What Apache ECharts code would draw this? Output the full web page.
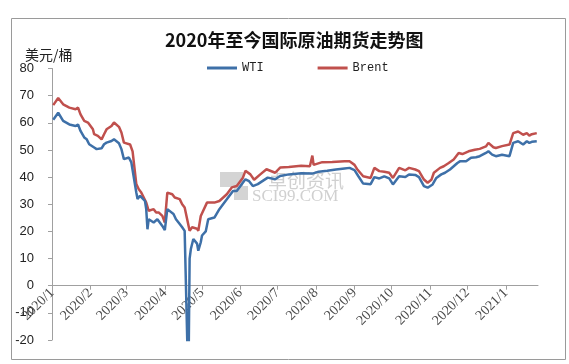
<!DOCTYPE html>
<html><head><meta charset="utf-8">
<script src="https://cdn.jsdelivr.net/npm/echarts@6/dist/echarts.min.js"></script>
<style>html,body{margin:0;padding:0;background:#fff}#c{width:569px;height:364px}</style>
</head><body><div id="c"></div>
<script>
const titleText = '2020年至今国际原油期货走势图';
const unitText = '美元/桶';
const seriesNames = ['WTI', 'Brent'];
const yMin = -20, yMax = 80, yStep = 10;
const xMin = '2020-01-01', xMax = '2021-01-27';

const wtiDates = ['2020-01-02','2020-01-06','2020-01-07','2020-01-10','2020-01-15','2020-01-20','2020-01-22','2020-01-24','2020-01-27','2020-01-29','2020-01-31',
'2020-02-04','2020-02-06','2020-02-10','2020-02-12','2020-02-14','2020-02-18','2020-02-20','2020-02-24','2020-02-26','2020-02-28',
'2020-03-03','2020-03-05','2020-03-09','2020-03-10','2020-03-12','2020-03-16','2020-03-17','2020-03-18','2020-03-19','2020-03-23','2020-03-26','2020-03-30',
'2020-04-01','2020-04-03','2020-04-08','2020-04-10','2020-04-13','2020-04-15','2020-04-17','2020-04-20','2020-04-21','2020-04-22','2020-04-24','2020-04-27','2020-04-28','2020-04-30',
'2020-05-01','2020-05-04','2020-05-06','2020-05-11','2020-05-15','2020-05-21','2020-05-26','2020-05-29',
'2020-06-01','2020-06-05','2020-06-08','2020-06-11','2020-06-15','2020-06-19','2020-06-23','2020-06-29',
'2020-07-03','2020-07-10','2020-07-20','2020-07-29','2020-08-03','2020-08-10','2020-08-17','2020-08-24','2020-08-28',
'2020-09-01','2020-09-04','2020-09-08','2020-09-14','2020-09-17','2020-09-21','2020-09-25','2020-09-29',
'2020-10-02','2020-10-07','2020-10-12','2020-10-15','2020-10-20','2020-10-23','2020-10-27','2020-10-30',
'2020-11-03','2020-11-06','2020-11-10','2020-11-13','2020-11-17','2020-11-23','2020-11-25','2020-11-30',
'2020-12-04','2020-12-08','2020-12-11','2020-12-16','2020-12-18','2020-12-21','2020-12-24','2020-12-29',
'2021-01-04','2021-01-07','2021-01-11','2021-01-15','2021-01-18','2021-01-20','2021-01-22','2021-01-26'];
const wtiValues = [61.1,63.7,63.3,60.7,59.4,58.8,59.4,57.0,54.6,53.9,52.1,
50.9,50.3,50.6,52.1,52.7,53.3,53.9,52.5,50.3,46.6,
47.2,45.4,34.3,31.9,33.1,31.2,28.2,20.8,24.5,23.3,24.5,22.0,
20.5,28.2,26.4,24.5,22.7,21.5,20.2,-37.6,10.0,13.5,17.2,15.5,12.9,16.0,
18.5,20.0,24.5,25.1,28.2,31.8,34.9,34.9,
36.7,39.2,38.5,36.7,37.4,38.6,39.8,39.2,
40.4,41.0,41.4,41.3,42.0,42.3,42.8,43.2,43.4,
42.6,40.4,37.6,37.4,40.0,39.5,40.3,39.5,
37.3,40.3,40.0,41.0,40.8,40.0,36.7,36.1,
37.3,39.7,41.0,41.6,42.8,45.2,45.8,45.8,
47.1,47.3,47.7,48.9,49.5,48.3,47.7,48.2,
47.7,52.6,53.2,52.0,53.2,52.6,53.0,53.2];

const brentDates = ['2020-01-02','2020-01-06','2020-01-07','2020-01-10','2020-01-15','2020-01-20','2020-01-22','2020-01-24','2020-01-27','2020-01-30',
'2020-02-03','2020-02-04','2020-02-07','2020-02-10','2020-02-12','2020-02-14','2020-02-18','2020-02-20','2020-02-24','2020-02-26','2020-02-28',
'2020-03-04','2020-03-06','2020-03-09','2020-03-11','2020-03-13','2020-03-17','2020-03-19','2020-03-23','2020-03-25','2020-03-27','2020-03-30',
'2020-04-01','2020-04-03','2020-04-07','2020-04-09','2020-04-13','2020-04-15','2020-04-17','2020-04-21','2020-04-23','2020-04-27','2020-04-28','2020-04-30',
'2020-05-05','2020-05-11','2020-05-15','2020-05-21','2020-05-25','2020-05-29',
'2020-06-03','2020-06-05','2020-06-09','2020-06-12','2020-06-17','2020-06-22','2020-06-29',
'2020-07-03','2020-07-10','2020-07-20','2020-07-27','2020-07-29','2020-07-30','2020-08-06','2020-08-14','2020-08-24','2020-08-28',
'2020-09-01','2020-09-03','2020-09-08','2020-09-14','2020-09-17','2020-09-21','2020-09-25','2020-09-29',
'2020-10-02','2020-10-07','2020-10-12','2020-10-15','2020-10-20','2020-10-23','2020-10-27','2020-10-30',
'2020-11-02','2020-11-04','2020-11-09','2020-11-12','2020-11-16','2020-11-20','2020-11-24','2020-11-27',
'2020-12-02','2020-12-07','2020-12-11','2020-12-16','2020-12-18','2020-12-22','2020-12-24','2020-12-29',
'2021-01-04','2021-01-07','2021-01-11','2021-01-15','2021-01-18','2021-01-20','2021-01-22','2021-01-26'];
const brentValues = [66.5,69.1,68.9,66.8,65.6,65.0,65.6,63.1,60.7,60.1,
57.6,55.8,55.2,53.9,55.8,57.6,58.8,60.1,58.5,56.4,52.7,
52.0,49.5,37.4,35.5,34.3,30.6,27.6,28.2,27.0,27.0,25.7,
23.3,34.3,33.7,32.5,31.9,30.0,28.8,20.2,21.5,21.0,20.2,25.7,
30.6,30.6,31.2,33.7,36.2,36.7,
39.8,42.3,41.0,39.0,41.0,42.9,41.6,
43.5,43.7,44.2,44.0,47.9,44.5,45.5,45.6,45.8,45.8,
44.5,43.0,40.3,39.7,43.4,42.2,42.0,41.6,
39.7,43.4,42.5,43.4,42.8,42.2,39.1,37.9,
39.0,41.6,43.4,44.0,45.2,46.5,48.9,48.5,
49.5,50.1,50.4,51.3,52.6,51.0,50.7,51.4,
52.0,56.2,56.8,55.6,56.2,55.3,55.8,56.2];

const pair = (ds, vs) => ds.map((d, i) => [d, vs[i]]);
const DAY = 86400000;
const CHART_H = 364, GRID_TOP = 68.5, GRID_BOTTOM = 24;
const gridH = CHART_H - GRID_TOP - GRID_BOTTOM;
// place the date axis on the zero value of the y scale
const zeroOffset = -gridH * (0 - yMin) / (yMax - yMin);

const chart = echarts.init(document.getElementById('c'), null, {renderer: 'canvas'});
chart.setOption({
  animation: false,
  backgroundColor: '#fff',
  title: {
    text: titleText, left: 160, top: 26,
    textStyle: {fontSize: 18, fontWeight: 'bold', color: '#111', fontFamily: 'Noto Sans CJK SC'}
  },
  legend: {
    left: 202, top: 57, itemWidth: 30, itemHeight: 3, itemGap: 54, icon: 'rect',
    textStyle: {fontFamily: 'Liberation Mono', fontSize: 12, color: '#222'},
    data: seriesNames
  },
  graphic: [
    {type: 'rect', left: 9, top: 16, shape: {width: 554, height: 341}, style: {fill: 'none', stroke: '#9a9a9a', lineWidth: 1}, silent: true, z: -10},
    {type: 'text', left: 25, top: 48, style: {text: unitText, font: '14px "Noto Sans CJK SC"', fill: '#222'}},
    {type: 'rect', left: 220, top: 172, shape: {width: 23, height: 15}, style: {fill: '#d4d4d4'}, z: -5},
    {type: 'rect', left: 234, top: 186, shape: {width: 14, height: 14}, style: {fill: '#d4d4d4'}, z: -5},
    {type: 'text', left: 268, top: 171, style: {text: '卓创资讯', font: '19px "Noto Sans CJK SC"', fill: '#d0d0d0'}, z: -5},
    {type: 'text', left: 252, top: 188, style: {text: 'SCI99.COM', font: '17px "Liberation Serif"', fill: '#d0d0d0'}, z: -5}
  ],
  grid: {left: 52, right: 31, top: GRID_TOP, bottom: GRID_BOTTOM, containLabel: false, outerBoundsMode: 'none'},
  xAxis: {
    type: 'time', min: xMin, max: xMax, position: 'bottom', offset: zeroOffset,
    minInterval: 28 * DAY, maxInterval: 31 * DAY,
    axisLine: {onZero: false, lineStyle: {color: '#a0a0a0', width: 1}},
    axisTick: {show: true, length: 4, lineStyle: {color: '#a0a0a0'}},
    splitLine: {show: false},
    axisLabel: {
      rotate: 45, margin: 5, fontSize: 14, color: '#4a4a4a', fontFamily: 'Liberation Serif',
      showMaxLabel: false, showMinLabel: true, hideOverlap: false,
      formatter: function (v) { const d = new Date(v); return d.getFullYear() + '/' + (d.getMonth() + 1); }
    }
  },
  yAxis: {
    type: 'value', min: yMin, max: yMax, interval: yStep,
    axisLine: {show: true, onZero: false, lineStyle: {color: '#a0a0a0'}},
    axisTick: {show: true, length: 4, lineStyle: {color: '#a0a0a0'}},
    splitLine: {show: false},
    axisLabel: {margin: 18, fontSize: 13, color: '#222', fontFamily: 'Liberation Sans'}
  },
  series: [
    {name: seriesNames[0], type: 'line', data: pair(wtiDates, wtiValues), symbol: 'none', clip: true,
     lineStyle: {color: '#3e70a8', width: 2.5}, itemStyle: {color: '#3e70a8'}, z: 3},
    {name: seriesNames[1], type: 'line', data: pair(brentDates, brentValues), symbol: 'none', clip: true,
     lineStyle: {color: '#c0504d', width: 2.5}, itemStyle: {color: '#c0504d'}, z: 2}
  ]
});
</script></body></html>
